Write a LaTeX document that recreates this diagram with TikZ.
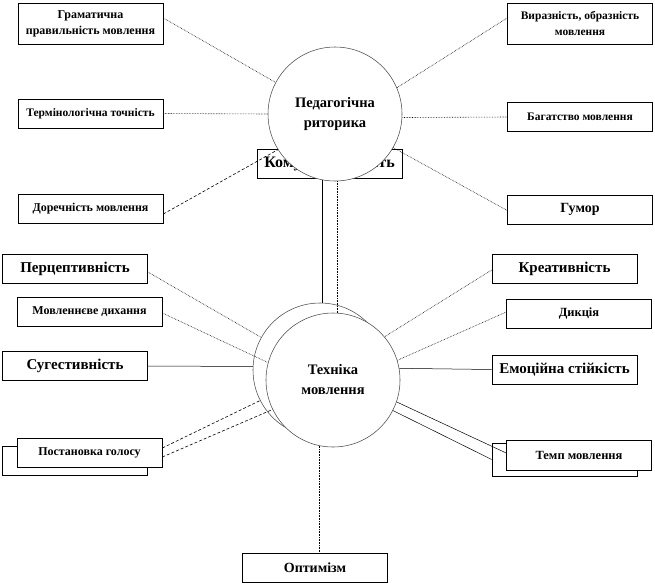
\documentclass[tikz,border=0pt]{standalone}
\usepackage{fontspec}
\setmainfont{Liberation Serif}
\begin{document}
\begin{tikzpicture}[x=1pt,y=-1pt,
  box/.style={draw=black, line width=0.6pt, fill=white, minimum width=145pt,
    minimum height=29pt, inner sep=1pt, align=center},
  fs/.style={font=\bfseries\fontsize{#1}{#1}\selectfont},
  circ/.style={circle, draw=black!70, line width=0.55pt, fill=white,
    minimum size=134pt, inner sep=0pt, align=center,
    font=\bfseries\fontsize{14.5}{20}\selectfont},
  dotlink/.style={line width=0.6pt, densely dotted},
  dashlink/.style={line width=0.6pt, densely dashed},
  solidlink/.style={line width=0.5pt},
]
\useasboundingbox (0,0) rectangle (655,584);

% boxes around the top circle
\node[box, font=\bfseries\fontsize{12}{16}\selectfont, minimum height=41pt] (gram) at (90.5,23.5) {Граматична\\правильність мовлення};
\node[box, fs=11.5] (term) at (90.5,113.5) {Термінологічна точність};
\node[box, fs=12] (dor) at (90.5,209) {Доречність мовлення};
\node[box, font=\bfseries\fontsize{11.5}{16}\selectfont, minimum height=41pt] (vyr) at (580,23.5) {Виразність, образність\\мовлення};
\node[box, fs=11.5] (bag) at (580,117) {Багатство мовлення};
\node[box, fs=14] (hum) at (580,209.5) {Гумор};
\node[box, fs=16] (kom) at (329.5,163.5) {Комунікативність};

\node[circ] (ped) at (335,114) {Педагогічна\\риторика};

% boxes around the lower circle
\node[box, fs=15] (perc) at (75,269) {Перцептивність};
\node[box, fs=12] (dyh) at (89.5,311.5) {Мовленнєве дихання};
\node[box, fs=15] (sug) at (75,366) {Сугестивність};
\node[box] (postb) at (75,461) {};
\node[box, fs=12] (post) at (89.5,453) {Постановка голосу};
\node[box, fs=15] (kre) at (564.5,269) {Креативність};
\node[box, fs=12.5] (dyk) at (579,313.5) {Дикція};
\node[box, fs=15] (emo) at (564.5,369.5) {Емоційна стійкість};
\node[box, minimum height=33pt] (tempb) at (564.5,459.5) {};
\node[box, fs=12.5, minimum height=30pt] (temp) at (579,455) {Темп мовлення};
\node[box, fs=14] (opt) at (315,567.5) {Оптимізм};

\node[circ] (tech0) at (320,370) {};
\node[circ] (tech) at (333,380) {Техніка\\мовлення};

% connectors, top circle
\draw[dotlink] ([yshift=5.5pt]gram.east) -- (ped.152);
\draw[dotlink] (term.east) -- (ped.180);
\draw[dashlink] ([yshift=-5pt]dor.east) -- (ped.212);
\draw[dotlink] ([yshift=5.5pt]vyr.west) -- (ped.23);
\draw[dotlink] (bag.west) -- (ped.-3);
\draw[dotlink] ([yshift=-1pt]hum.west) -- (ped.-30);

% connectors between the circles
\draw[solidlink] (ped.259) -- (ped.259 |- tech0.north);
\draw[dotlink] (ped.272) -- (ped.272 |- tech.north);

% connectors, lower circle
\draw[dotlink] ([yshift=-3pt]perc.east) -- (tech0.151);
\draw[dotlink] ([yshift=-1.5pt]dyh.east) -- (tech.165);
\draw[solidlink] (sug.east) -- (tech0.177);
\draw[dashlink] ([yshift=5pt]post.east) -- (tech0.207);
\draw[dashlink] ([yshift=-4pt]post.east) -- (tech.206);
\draw[dotlink] ([yshift=-1pt]kre.west) -- (tech.40);
\draw[dotlink] ([yshift=1.5pt]dyk.west) -- (tech.17);
\draw[solidlink] (emo.west) -- (tech.10);
\draw[solidlink] ([yshift=2pt]temp.west) -- (tech.-19);
\draw[solidlink] (tempb.west) -- (tech.-27);
\draw[dotlink] (tech.258) -- (tech.258 |- opt.north);
\end{tikzpicture}
\end{document}
